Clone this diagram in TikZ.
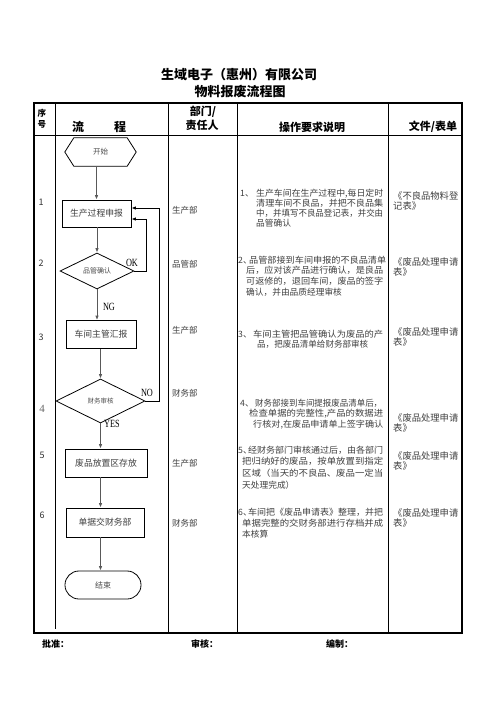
\documentclass[tikz,border=0pt]{standalone}
\usepackage{fontspec}
\usepackage{graphicx}
\setmainfont{Noto Sans CJK SC}
\newfontfamily\lblfont{Liberation Serif}
\usetikzlibrary{arrows.meta,shapes.geometric}
% justified description line: lead width, lead text, line width, line text
\newcommand{\dln}[4]{\makebox[#1][l]{#2}\resizebox{#3}{\height}{#4}}
\tikzset{
  body/.style={text=black!75, inner sep=0pt},
  hd/.style={font=\fontsize{#1}{#1}\selectfont\bfseries, inner sep=0pt},
  fbox/.style={draw=black, line width=0.8pt, rectangle, inner sep=0pt, text=black!75, font=\fontsize{8.8}{8.8}\selectfont},
  dia/.style={draw=black, line width=0.8pt, diamond, aspect=2, inner sep=0pt, text=black!70},
  flow/.style={draw=black!65, line width=0.9pt, -{Latex[length=4.5pt,width=3.5pt]}},
  loopl/.style={draw=black, line width=1pt, -{Latex[length=4.5pt,width=3.5pt]}},
  lbl/.style={inner sep=0pt, font=\lblfont\fontsize{11}{11}\selectfont},
  desc/.style={body, anchor=north west, align=left, font=\fontsize{8.7}{#1}\selectfont},
  file/.style={body, anchor=north west, align=left, font=\fontsize{9.3}{10.3}\selectfont},
  dept/.style={body, anchor=west, font=\fontsize{8.5}{8.5}\selectfont},
  num/.style={inner sep=0pt, text=black!80, font=\fontsize{9}{9}\selectfont},
  frame/.style={line width=1.6pt, draw=black},
  grid/.style={line width=0.8pt, draw=black}
}
\begin{document}
\begin{tikzpicture}[x=1pt,y=-1pt]
\useasboundingbox (0,0) rectangle (496,702);
\fill[white] (0,0) rectangle (496,702);
% title
\node[hd=13] (t1) at (239,75) {生域电子（惠州）有限公司};
\node[hd=13] (t2) at (240,92) {物料报废流程图};
% table
\draw[grid] (34,135) -- (462,135);
\draw[grid] (55,103) -- (55,629);
\draw[grid] (168,103) -- (168,633);
\draw[grid] (237,103) -- (237,633);
\draw[grid] (388,103) -- (388,633);
\draw[frame] (34,103) rectangle (462,633);
% header
\node[hd=8.5] (h1a) at (42,113) {序};
\node[hd=8.5] (h1b) at (42,124) {号};
\node[hd=12] (h2a) at (78,127) {流};
\node[hd=12] (h2b) at (120,127) {程};
\node[hd=11] (h3a) at (203,112) {部门/};
\node[hd=11] (h3b) at (202,125) {责任人};
\node[hd=11] (h4) at (312,127) {操作要求说明};
\node[hd=11] (h5) at (433,127) {文件/表单};
% row numbers
\node[num] (n1) at (41,202) {1};
\node[num] (n2) at (41,263) {2};
\node[num] (n3) at (41,337) {3};
\node[num, font=\lblfont\fontsize{11}{11}\selectfont, text=black!60] (n4) at (42,409) {4};
\node[num] (n5) at (42,455) {5};
\node[num] (n6) at (42,515) {6};
% flow shapes
\node[inner sep=0pt, minimum width=71pt, minimum height=28pt, text=black!70, font=\fontsize{7.5}{7.5}\selectfont] (start) at (100.5,152) {开始};
\draw[line width=0.8pt] (start.west) -- ([xshift=9pt]start.north west) -- ([xshift=-9pt]start.north east) -- (start.east) -- ([xshift=-9pt]start.south east) -- ([xshift=9pt]start.south west) -- cycle;
\node[fbox, minimum width=69pt, minimum height=27pt] (b1) at (96.5,213.5) {生产过程申报};
\node[dia, minimum width=74pt, minimum height=36pt, font=\fontsize{7}{7}\selectfont] (d2) at (97,271) {品管确认};
\node[fbox, minimum width=70pt, minimum height=28pt] (b3) at (101,334.5) {车间主管汇报};
\node[dia, minimum width=89pt, minimum height=44pt, font=\fontsize{6.5}{6.5}\selectfont] (d4) at (100.5,401) {财务审核};
\node[fbox, minimum width=82pt, minimum height=28pt] (b5) at (106,463) {废品放置区存放};
\node[fbox, minimum width=78pt, minimum height=29pt] (b6) at (105,522.5) {单据交财务部};
\node[draw=black, line width=0.8pt, rounded corners=13.9pt, minimum width=76pt, minimum height=28pt, inner sep=0pt, text=black!70, font=\fontsize{8}{8}\selectfont] (end) at (103,585) {结束};
% connectors
\draw[flow] (b1.north |- start.south) -- (b1.north);
\draw[flow] (b1.south -| d2.north) -- (d2.north);
\draw[flow] (d2.south) -- (d2.south |- b3.north);
\draw[flow] (b3.south -| d4.north) -- (d4.north);
\draw[flow] (d4.south) -- (d4.south |- b5.north);
\draw[flow] (d4.south |- b5.south) -- (d4.south |- b6.north);
\draw[flow] (d4.south |- b6.south) -- (d4.south |- end.north);
\coordinate (lp1) at (146,219);
\coordinate (lp2) at (159,208);
\draw[loopl] (d2.east) -| (lp1) -- (lp1 -| b1.east);
\draw[loopl] (d4.east) -| (lp2) -- (lp2 -| b1.east);
% labels
\node[lbl] (ok) at (132,263) {\scalebox{0.75}[1]{OK}};
\node[lbl] (ng) at (109,307) {\scalebox{0.75}[1]{NG}};
\node[lbl] (no) at (147,393) {\scalebox{0.75}[1]{NO}};
\node[lbl] (yes) at (112,424) {\scalebox{0.75}[1]{YES}};
% departments
\node[dept] (p1) at (172,210) {生产部};
\node[dept] (p2) at (172,264) {品管部};
\node[dept] (p3) at (172,330) {生产部};
\node[dept] (p4) at (172,393) {财务部};
\node[dept] (p5) at (172,463) {生产部};
\node[dept] (p6) at (172,523) {财务部};
% descriptions
\node[desc=10.3] (s1) at (240,188.5) {\dln{16pt}{1、}{127pt}{生产车间在生产过程中,每日定时}\\
  \dln{16pt}{}{127pt}{清理车间不良品，并把不良品集}\\
  \dln{16pt}{}{127pt}{中，并填写不良品登记表，并交由}\\
  \hspace*{16pt}品管确认};
\node[desc=10.9] (s2) at (238,255.5) {\dln{11pt}{2、}{137pt}{品管部接到车间申报的不良品清单}\\
  \dln{8pt}{}{137pt}{后，应对该产品进行确认，是良品}\\
  \dln{8pt}{}{137pt}{可返修的，退回车间，废品的签字}\\
  \hspace*{8pt}确认，并由品质经理审核};
\node[desc=10.3] (s3) at (238,329.5) {\dln{15pt}{3、}{130pt}{车间主管把品管确认为废品的产}\\
  \dln{19pt}{}{111pt}{品，把废品清单给财务部审核}};
\node[desc=10.9] (s4) at (240,398.5) {\dln{15pt}{4、}{127pt}{财务部接到车间提报废品清单后，}\\
  \dln{9pt}{}{134pt}{检查单据的完整性,产品的数据进}\\
  \dln{13pt}{}{130pt}{行核对,在废品申请单上签字确认}};
\node[desc=11.7] (s5) at (238,445.5) {\dln{10pt}{5、}{135pt}{经财务部门审核通过后，由各部门}\\
  \dln{4pt}{}{141pt}{把归纳好的废品，按单放置到指定}\\
  \dln{4pt}{}{141pt}{区域（当天的不良品、废品一定当}\\
  \hspace*{4pt}天处理完成）};
\node[desc=11.2] (s6) at (238,507.5) {\dln{10pt}{6、}{135pt}{车间把《废品申请表》整理，并把}\\
  \dln{4pt}{}{141pt}{单据完整的交财务部进行存档并成}\\
  \hspace*{4pt}本核算};
% files
\node[file] (f1) at (393,191.5) {《不良品物料登\\记表》};
\node[file] (f2) at (393,257.5) {《废品处理申请\\表》};
\node[file] (f3) at (393,327.5) {《废品处理申请\\表》};
\node[file] (f4) at (393,413.5) {《废品处理申请\\表》};
\node[file] (f5) at (393,451.5) {《废品处理申请\\表》};
\node[file] (f6) at (393,508.5) {《废品处理申请\\表》};
% footer
\node[hd=9, anchor=west] (ft1) at (42,644) {批准：};
\node[hd=9, anchor=west] (ft2) at (191,644) {审核：};
\node[hd=9, anchor=west] (ft3) at (326,644) {编制：};
\end{tikzpicture}
\end{document}
